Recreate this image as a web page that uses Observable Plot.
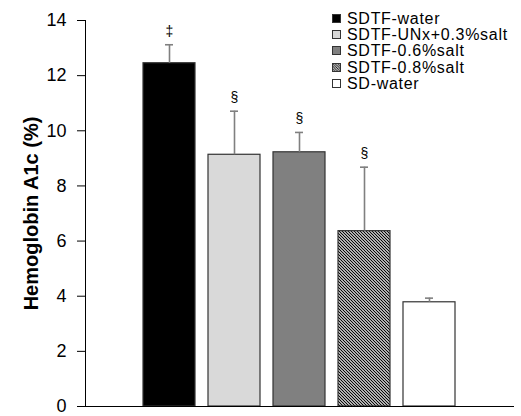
<!DOCTYPE html>
<html>
<head>
<meta charset="utf-8">
<script src="https://cdn.jsdelivr.net/npm/d3@7"></script>
<script src="https://cdn.jsdelivr.net/npm/@observablehq/plot@0.6"></script>
<style>
  body { margin: 0; background: #fff; font-family: "Liberation Sans", Arial, sans-serif; }
  #wrap { position: relative; width: 521px; height: 416px; }
  #legend { position: absolute; left: 332px; top: 10px; font-size: 16px; color: #000; }
  #legend .row { display: flex; align-items: center; white-space: nowrap; height: 16.4px; }
  #legend .row span { display: inline-block; height: 15px; line-height: 15px; letter-spacing: 0.7px; overflow: visible; }
  #legend svg { margin-right: 6px; flex: none; }
  g[aria-label="y-axis label"] text { font-weight: bold; font-size: 20px; }
</style>
</head>
<body>
<div id="wrap"><div id="legend"></div></div>
<script>
const groups = ["SDTF-water", "SDTF-UNx+0.3%salt", "SDTF-0.6%salt", "SDTF-0.8%salt", "SD-water"];
const means = [12.45, 9.13, 9.22, 6.36, 3.78];
const errors = [0.67, 1.58, 0.72, 2.32, 0.15];
const sigLabels = ["‡", "§", "§", "§", ""];
const fills = ["#000000", "#d9d9d9", "#808080", "url(#hatch)", "#ffffff"];
const yTicks = [0, 2, 4, 6, 8, 10, 12, 14];

const data = groups.map((g, i) => ({group: g, mean: means[i], err: errors[i], top: means[i] + errors[i], sig: sigLabels[i], fill: fills[i]}));

const chart = Plot.plot({
  width: 521,
  height: 416,
  marginLeft: 85,
  marginRight: 8,
  marginTop: 20,
  marginBottom: 10,
  style: {fontFamily: '"Liberation Sans", Arial, sans-serif', background: "#fff", color: "#000"},
  x: {type: "band", domain: groups, paddingInner: 0.2, paddingOuter: 0.85, axis: null},
  y: {domain: [0, 14]},
  marks: [
    Plot.barY(data, {x: "group", y: "mean", fill: d => d.fill, stroke: "#333", strokeWidth: 1.2}),
    Plot.ruleX(data, {x: "group", y1: "mean", y2: "top", stroke: "#808080", strokeWidth: 1.6}),
    Plot.tickY(data, {x: "group", y: "top", stroke: "#808080", strokeWidth: 1.6, insetLeft: 22, insetRight: 22}),
    Plot.text(data, {x: "group", y: "top", text: "sig", dy: -9, lineAnchor: "bottom", fontSize: 14, fill: "#000"}),
    Plot.axisY({ticks: yTicks, tickSize: 8, tickPadding: 11, fontSize: 18, label: "Hemoglobin A1c (%)", labelAnchor: "center", labelArrow: "none", labelOffset: 62}),
    Plot.frame({anchor: "left", stroke: "#000"}),
    Plot.frame({anchor: "bottom", stroke: "#000"})
  ]
});

// hatch pattern definition
const ns = "http://www.w3.org/2000/svg";
const defs = document.createElementNS(ns, "defs");
defs.innerHTML = '<pattern id="hatch" patternUnits="userSpaceOnUse" width="3" height="3"><rect width="3" height="3" fill="#fff"/><path d="M-1,-1 L4,4 M-1,2 L1,4 M2,-1 L4,1" stroke="#000" stroke-width="1.2"/></pattern>';
chart.insertBefore(defs, chart.firstChild);

const wrap = document.getElementById("wrap");
wrap.insertBefore(chart, wrap.firstChild);

// legend
const legend = document.getElementById("legend");
groups.forEach((g, i) => {
  const row = document.createElement("div");
  row.className = "row";
  row.innerHTML = `<svg width="9" height="9"><defs><pattern id="hatchL${i}" patternUnits="userSpaceOnUse" width="2.5" height="2.5"><rect width="2.5" height="2.5" fill="#fff"/><path d="M-1,-1 L3.5,3.5 M-1,1.5 L1,3.5 M1.5,-1 L3.5,1" stroke="#000" stroke-width="0.9"/></pattern></defs><rect x="0.5" y="0.5" width="8" height="8" fill="${fills[i] === "url(#hatch)" ? `url(#hatchL${i})` : fills[i]}" stroke="#333" stroke-width="1"/></svg><span>${g}</span>`;
  legend.appendChild(row);
});
</script>
</body>
</html>
